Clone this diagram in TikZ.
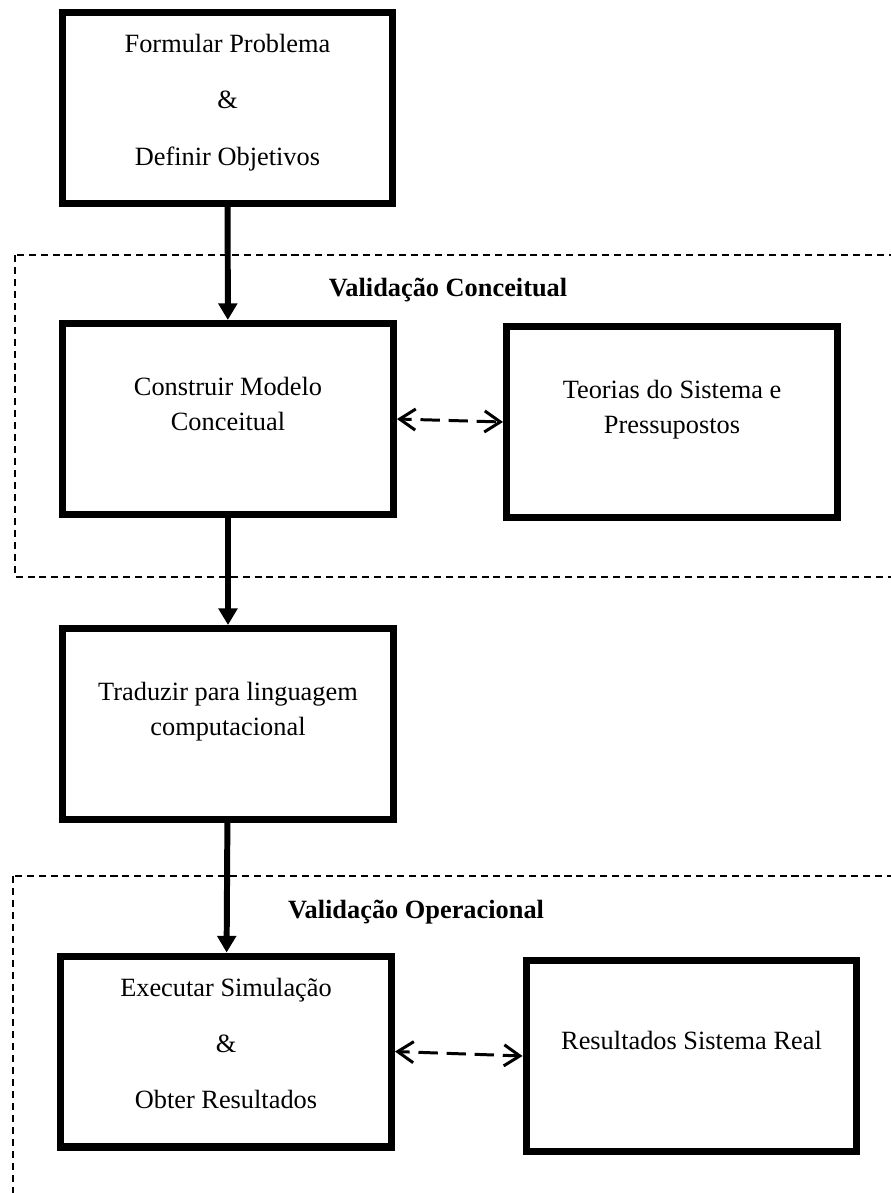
\documentclass[tikz,border=0pt]{standalone}
\usepackage{fontspec}
\setmainfont{Liberation Serif}
\usetikzlibrary{arrows.meta}
\newcommand{\textocaixa}[2][15pt]{\raisebox{0pt}[\height][\dimexpr\depth+#1\relax]{\begin{tabular}{@{}c@{}}#2\end{tabular}}}
\tikzset{
  caixa/.style={draw,line width=4pt,minimum width=6.62cm,minimum height=3.82cm,inner sep=0pt,font=\fontsize{15}{20}\selectfont},
  fluxo/.style={line width=3.4pt,-{Triangle[length=9.5pt,width=10.5pt]}},
  troca/.style={line width=1.7pt,dash pattern=on 11pt off 5pt,dash phase=5pt,{Straight Barb[length=9pt,width=12pt]}-{Straight Barb[length=9pt,width=12pt]}},
  validacao/.style={line width=1pt,dash pattern=on 4pt off 2.8pt},
  titulo/.style={font=\fontsize{15}{20}\selectfont\bfseries,anchor=base}
}
\begin{document}
\begin{tikzpicture}[x=0.02cm,y=-0.02cm]
\useasboundingbox (0,0) rectangle (891,1193);
\clip (0,0) rectangle (891,1193);
\draw[validacao] (15,255) rectangle (910,577);
\draw[validacao] (13,876) rectangle (910,1220);
\node[titulo] (tconceitual) at (448,296) {Validação Conceitual};
\node[titulo] (toperacional) at (416,918) {Validação Operacional};
\node[caixa] (problema) at (227.5,108) {\textocaixa[7pt]{Formular Problema\\[12pt]\&\\[12pt]Definir Objetivos}};
\node[caixa] (modelo) at (228,419) {\textocaixa{Construir Modelo\\Conceitual}};
\node[caixa] (teorias) at (672,422) {\textocaixa{Teorias do Sistema e\\Pressupostos}};
\node[caixa] (traduzir) at (228,724) {\textocaixa{Traduzir para linguagem\\computacional}};
\node[caixa] (simulacao) at (226,1051.5) {\textocaixa[7pt]{Executar Simulação\\[12pt]\&\\[12pt]Obter Resultados}};
\node[caixa] (real) at (691.5,1056) {\textocaixa{Resultados Sistema Real}};
\draw[fluxo] (problema) -- (modelo);
\draw[fluxo] (modelo) -- (traduzir);
\draw[fluxo] (traduzir) -- (simulacao);
\draw[troca] (modelo.east) -- (teorias.west);
\draw[troca] (simulacao.east) -- (real.west);
\end{tikzpicture}
\end{document}
